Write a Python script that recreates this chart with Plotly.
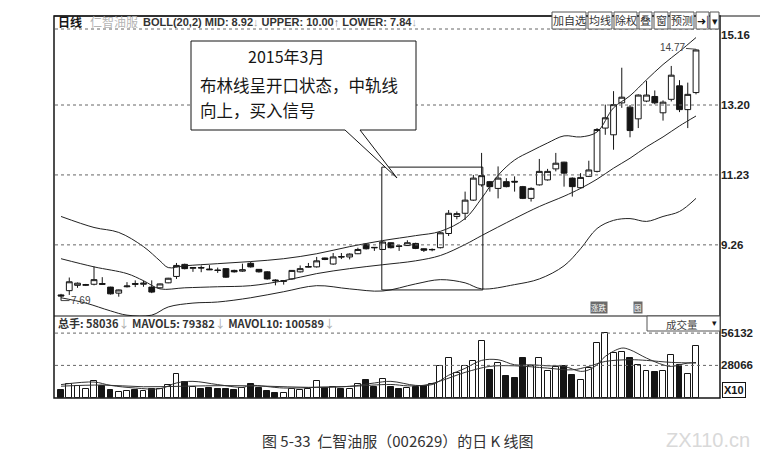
import plotly.graph_objects as go

# daily candles, index 0 = first day shown
opens = [7.85, 7.97, 8.12, 8.12, 8.15, 8.17, 8.07, 7.90, 8.08, 8.17,
         8.15, 8.07, 8.05, 8.19, 8.37, 8.71, 8.60, 8.62, 8.58, 8.55,
         8.59, 8.54, 8.52, 8.74, 8.57, 8.50, 8.27, 8.23, 8.30, 8.50,
         8.63, 8.64, 8.89, 8.72, 8.93, 8.92, 9.01, 9.28, 9.19, 9.13,
         9.32, 9.23, 9.24, 9.30, 9.15, 9.12, 9.18, 9.58, 10.06, 10.15,
         10.52, 10.95, 11.04, 10.85, 11.04, 11.05, 10.90, 10.57, 10.95, 11.09,
         11.40, 11.59, 11.14, 10.87, 11.19, 11.33, 12.55, 12.36, 13.26, 13.14,
         12.81, 13.31, 13.44, 12.98, 13.36, 13.74, 13.07, 13.55]
highs = [7.88, 8.34, 8.20, 8.16, 8.65, 8.35, 8.08, 8.00, 8.21, 8.26,
         8.25, 8.26, 8.17, 8.33, 8.75, 8.73, 8.63, 8.68, 8.69, 8.62,
         8.60, 8.56, 8.73, 8.78, 8.58, 8.52, 8.29, 8.27, 8.55, 8.68,
         8.75, 8.92, 8.90, 9.03, 9.03, 9.02, 9.18, 9.30, 9.20, 9.36,
         9.33, 9.25, 9.39, 9.32, 9.16, 9.16, 9.62, 10.24, 10.20, 10.76,
         11.23, 11.85, 11.06, 11.47, 11.14, 11.19, 10.92, 10.88, 11.68, 11.40,
         11.85, 11.60, 11.16, 11.28, 11.63, 12.55, 13.21, 13.59, 14.25, 13.20,
         13.50, 13.88, 13.61, 13.33, 14.30, 13.90, 13.83, 14.77]
lows = [7.69, 7.85, 8.05, 8.10, 8.12, 8.14, 7.86, 7.80, 8.06, 8.07,
        8.08, 7.90, 8.03, 8.18, 8.30, 8.57, 8.50, 8.49, 8.55, 8.47,
        8.33, 8.48, 8.50, 8.62, 8.48, 8.28, 8.12, 8.14, 8.28, 8.48,
        8.62, 8.62, 8.83, 8.70, 8.86, 8.85, 9.00, 9.13, 9.09, 9.12,
        9.16, 9.09, 9.23, 9.14, 9.06, 9.08, 9.16, 9.51, 9.98, 9.96,
        10.50, 10.90, 10.76, 10.57, 10.88, 10.76, 10.55, 10.48, 10.93, 11.07,
        11.33, 10.90, 10.62, 10.85, 11.17, 11.30, 12.36, 11.94, 13.12, 12.29,
        12.55, 13.28, 13.22, 12.76, 13.30, 13.00, 12.55, 13.50]
closes = [7.82, 8.22, 8.18, 8.14, 8.28, 8.15, 7.88, 7.99, 8.10, 8.15,
          8.18, 7.93, 8.16, 8.32, 8.68, 8.59, 8.62, 8.61, 8.56, 8.54,
          8.35, 8.50, 8.56, 8.64, 8.50, 8.30, 8.25, 8.25, 8.54, 8.59,
          8.65, 8.81, 8.85, 8.92, 8.92, 9.00, 9.13, 9.15, 9.18, 9.34,
          9.18, 9.22, 9.32, 9.16, 9.11, 9.13, 9.60, 10.15, 10.14, 10.52,
          11.14, 11.21, 10.90, 11.14, 10.90, 11.03, 10.57, 10.85, 11.33, 11.33,
          11.56, 11.28, 10.90, 11.16, 11.37, 12.51, 12.84, 13.21, 13.42, 12.48,
          13.48, 13.48, 13.26, 13.28, 14.04, 13.07, 13.50, 14.75]
volumes = [7000, 11900, 9800, 7800, 14800, 9800, 7000, 4600, 6100, 7000,
           5500, 7800, 7500, 11300, 20600, 13300, 9000, 7800, 8400, 7500,
           7800, 7000, 8400, 12300, 8400, 6100, 4000, 4000, 7500, 6400,
           7500, 14200, 8400, 9300, 7800, 7800, 11900, 15100, 9000, 16500,
           9000, 7800, 8400, 9000, 10400, 11900, 27900, 34400, 21400, 27200,
           31500, 48900, 24200, 30100, 18500, 17000, 34400, 27200, 34400, 22900,
           26600, 27200, 19900, 15600, 25700, 47400, 56100, 38800, 39400, 34400,
           28600, 22900, 22000, 22900, 36800, 28600, 20800, 44600]

# BOLL(20,2) at sample days
upper_days = [0, 4, 7, 10, 12, 13, 15, 19, 23, 27, 31, 35, 39, 43, 46, 49, 51, 53,
              55, 57, 59, 61, 63, 65, 67, 69, 71, 73, 75, 77]
upper_vals = [10.06, 9.75, 9.61, 9.21, 8.81, 8.62, 8.67, 8.73, 8.79, 8.87, 9.01, 9.21,
              9.38, 9.52, 9.64, 10.00, 10.57, 11.22, 11.65, 11.90, 12.13, 12.33, 12.30,
              12.44, 13.12, 13.46, 13.91, 14.34, 14.71, 15.10]
mid_days = [0, 4, 8, 10, 12, 15, 19, 23, 27, 31, 35, 39, 43, 46, 49, 51, 55, 58,
            61, 63, 65, 67, 69, 71, 73, 75, 77]
mid_vals = [8.87, 8.64, 8.45, 8.25, 8.02, 8.05, 8.08, 8.11, 8.25, 8.45, 8.59, 8.70,
            8.81, 8.96, 9.27, 9.52, 10.00, 10.34, 10.63, 10.85, 11.11, 11.42, 11.70,
            12.02, 12.30, 12.61, 12.89]
lower_days = [0, 3, 6, 8, 11, 13, 16, 19, 23, 27, 31, 35, 39, 43, 46, 49, 51, 55,
              58, 61, 63, 65, 67, 69, 71, 73, 75, 77]
lower_vals = [7.77, 7.62, 7.40, 7.28, 7.28, 7.51, 7.62, 7.65, 7.77, 7.94, 8.11, 8.02,
              7.96, 8.16, 8.28, 8.19, 8.02, 8.14, 8.30, 8.67, 9.15, 9.72, 9.95, 10.00,
              9.92, 10.06, 10.20, 10.57]

# volume moving averages read at sample days
mavol5_days = [0, 4, 6, 9, 12, 14, 16, 19, 22, 23, 27, 31, 35, 38, 40, 43, 45, 46,
               47, 49, 51, 53, 55, 57, 59, 61, 63, 64, 65, 66, 68, 69, 71, 73, 74, 76, 77]
mavol5_vals = [11400, 13600, 10700, 8400, 7800, 12800, 14200, 11400, 9000, 10700,
               8400, 9000, 9900, 12800, 14200, 10700, 11400, 15000, 19500, 25500,
               32400, 33000, 28600, 28600, 27700, 27200, 22900, 24200, 28600, 35900,
               43100, 41600, 34400, 28600, 27200, 30100, 30600]
mavol10_days = [0, 5, 10, 15, 20, 25, 30, 35, 40, 42, 44, 46, 49, 52, 55, 59, 62,
                64, 66, 69, 71, 74, 77]
mavol10_vals = [10000, 11000, 9500, 10000, 10500, 10000, 9000, 9800, 11500, 10300,
                10800, 14500, 22000, 27200, 27700, 25700, 24200, 27200, 31500, 33000,
                32400, 30700, 30100]

price_ticks = [9.26, 11.23, 13.20, 15.16]
price_labels = ["9.26", "11.23", "13.20", "15.16"]
vol_ticks = [28066, 56132]
vol_labels = ["28066", "56132"]

W, H = 780, 451


def px(x):
    return x / W


def py(y):
    return 1 - y / H


days = list(range(len(closes)))
bar_fill = ["white" if c >= o else "#151515" for o, c in zip(opens, closes)]
ink = "#151515"

fig = go.Figure()

fig.add_trace(go.Bar(
    x=days, y=volumes, yaxis="y2", width=0.72,
    marker=dict(color=bar_fill, line=dict(color=ink, width=1)),
    hoverinfo="skip"
))
for d, v in [(mavol5_days, mavol5_vals), (mavol10_days, mavol10_vals)]:
    fig.add_trace(go.Scatter(
        x=d, y=v, yaxis="y2", mode="lines", line_shape="spline",
        line=dict(color="#333", width=1), hoverinfo="skip"
    ))

for d, v in [(upper_days, upper_vals), (mid_days, mid_vals), (lower_days, lower_vals)]:
    fig.add_trace(go.Scatter(
        x=d, y=v, mode="lines", line_shape="spline",
        line=dict(color="#222", width=1), hoverinfo="skip"
    ))

fig.add_trace(go.Candlestick(
    x=days, open=opens, high=highs, low=lows, close=closes,
    increasing=dict(line=dict(color=ink, width=1), fillcolor="white"),
    decreasing=dict(line=dict(color=ink, width=1), fillcolor=ink),
    whiskerwidth=0, hoverinfo="skip"
))

shapes = []
# panel frames
shapes.append(dict(type="rect", xref="paper", yref="paper", x0=px(46), x1=px(712),
                   y0=py(390), y1=py(8), line=dict(color=ink, width=1.5)))
shapes.append(dict(type="line", xref="paper", yref="paper", x0=px(46), x1=px(752),
                   y0=py(8), y1=py(8), line=dict(color=ink, width=1)))
shapes.append(dict(type="line", xref="paper", yref="paper", x0=px(46), x1=px(712),
                   y0=py(308), y1=py(308), line=dict(color=ink, width=1.2)))
# dotted grid
shapes.append(dict(type="line", xref="paper", yref="paper", x0=px(47), x1=px(712),
                   y0=py(21), y1=py(21), line=dict(color="#666", width=1, dash="dot")))
for t in price_ticks[:3]:
    shapes.append(dict(type="line", xref="paper", yref="y", x0=px(47), x1=px(712),
                       y0=t, y1=t, line=dict(color="#666", width=1, dash="dot")))
for t in vol_ticks:
    shapes.append(dict(type="line", xref="paper", yref="y2", x0=px(47), x1=px(712),
                       y0=t, y1=t, line=dict(color="#666", width=1, dash="dot")))
# highlight box around the breakout
shapes.append(dict(type="rect", xref="x", yref="y", x0=38.9, x1=51.15, y0=7.99, y1=11.45,
                   line=dict(color=ink, width=1)))
# callout box with tail
path = "M {a},{b} L {c},{b} L {c},{d} L {e},{d} L {f},{g} L {h},{d} L {a},{d} Z".format(
    a=px(183), b=py(33), c=px(408), d=py(122), e=px(352), f=px(389), g=py(170), h=px(337))
shapes.append(dict(type="path", xref="paper", yref="paper", path=path,
                   fillcolor="white", line=dict(color=ink, width=1)))
# toolbar buttons
buttons = [("加自选", 544, 578), ("均线", 580, 604), ("除权", 606, 629), ("叠", 631, 644),
           ("窗", 646, 660), ("预测", 662, 686), ("➜|", 688, 701), ("▾", 702, 711)]
for _, x0, x1 in buttons:
    shapes.append(dict(type="rect", xref="paper", yref="paper", x0=px(x0), x1=px(x1),
                       y0=py(21), y1=py(4), line=dict(color="#555", width=1),
                       fillcolor="white"))
# volume selector box
shapes.append(dict(type="rect", xref="paper", yref="paper", x0=px(639), x1=px(712),
                   y0=py(323), y1=py(308), line=dict(color="#555", width=1),
                   fillcolor="white"))

ann = []
cjk = "Noto Sans CJK SC"
lat = "Liberation Sans"


def text(x, y, s, size=11, color=ink, family=lat, anchor="left", **kw):
    ann.append(dict(xref="paper", yref="paper", x=px(x), y=py(y), text=s, showarrow=False,
                    xanchor=anchor, yanchor="middle", font=dict(family=family, size=size,
                                                                color=color), **kw))


text(48, 14, "<b>日线</b>", 12, family=cjk)
text(80, 14, "仁智油服", 12, "#b5b5b5", cjk)
text(133, 14, "<b>BOLL(20,2) MID: 8.92</b><span style='color:#aaa'>↓</span> "
              "<b>UPPER: 10.00</b><span style='color:#777'>↑</span> "
              "<b>LOWER: 7.84</b><span style='color:#aaa'>↓</span>", 11, "#333")
text(48, 315, "<b>总手: 58036</b><span style='color:#aaa'>↓</span> "
              "<b>MAVOL5: 79382</b><span style='color:#aaa'>↓</span> "
              "<b>MAVOL10: 100589</b><span style='color:#aaa'>↓</span>", 11, "#333", cjk)
for label, x0, x1 in buttons:
    color = ink if label in ("➜|", "▾") else "#333"
    text((x0 + x1) / 2, 12.5, label, 11, color, cjk, anchor="center")
text(674, 316, "成交量", 10.5, "#444", cjk, anchor="center")
text(706, 315, "▾", 9, ink, anchor="center")
text(591, 299, "涨跌", 7.5, "white", cjk, anchor="center", bgcolor="#6a6a6a", borderpad=0)
text(630, 299, "图", 7.5, "white", cjk, anchor="center", bgcolor="#6a6a6a", borderpad=0)
text(714, 382, "<b>X10</b>", 11, ink, lat, bordercolor=ink, borderwidth=1, borderpad=1)
# callout text
text(278, 48, "2015年3月", 16, ink, cjk, anchor="center")
text(190, 77, "布林线呈开口状态，中轨线", 16.5, ink, cjk)
text(190, 102, "向上，买入信号", 16.5, ink, cjk)
# caption and watermark
text(390, 432, "图 5-33  仁智油服（002629）的日 K 线图", 15, "#333", cjk, anchor="center")
text(700, 432, "ZX110.cn", 20, "#d9d9d9", lat, anchor="center")

# extreme value labels
ann.append(dict(x=77, y=highs[77], xref="x", yref="y", text="14.77", showarrow=True,
                arrowhead=0, arrowwidth=1, arrowcolor="#444", ax=-24, ay=-2,
                font=dict(family=lat, size=10, color="#444")))
ann.append(dict(x=0, y=lows[0], xref="x", yref="y", text="7.69", showarrow=True,
                arrowhead=0, arrowwidth=1, arrowcolor="#444", ax=20, ay=0,
                font=dict(family=lat, size=10, color="#444")))

tickfont = dict(family=lat, size=11.5, color="#222")
fig.update_layout(
    width=W, height=H,
    margin=dict(l=0, r=0, t=0, b=0),
    paper_bgcolor="white", plot_bgcolor="white",
    showlegend=False,
    bargap=0,
    boxgap=0.3,
    boxgroupgap=0,
    xaxis=dict(domain=[px(47), px(712)], range=[-0.73, 79.91], visible=False,
               rangeslider=dict(visible=False), anchor="y2"),
    yaxis=dict(domain=[py(308), py(8)], range=[7.256, 15.707], side="right", anchor="x",
               tickvals=price_ticks, ticktext=["<b>%s</b>" % s for s in price_labels],
               showgrid=False, zeroline=False, ticks="", tickfont=tickfont),
    yaxis2=dict(domain=[py(389.7), py(308)], range=[0, 70990], side="right", anchor="x",
                tickvals=vol_ticks, ticktext=["<b>%s</b>" % s for s in vol_labels],
                showgrid=False, zeroline=False, ticks="", tickfont=tickfont),
    shapes=shapes,
    annotations=ann,
)

fig.write_html("out.html")
